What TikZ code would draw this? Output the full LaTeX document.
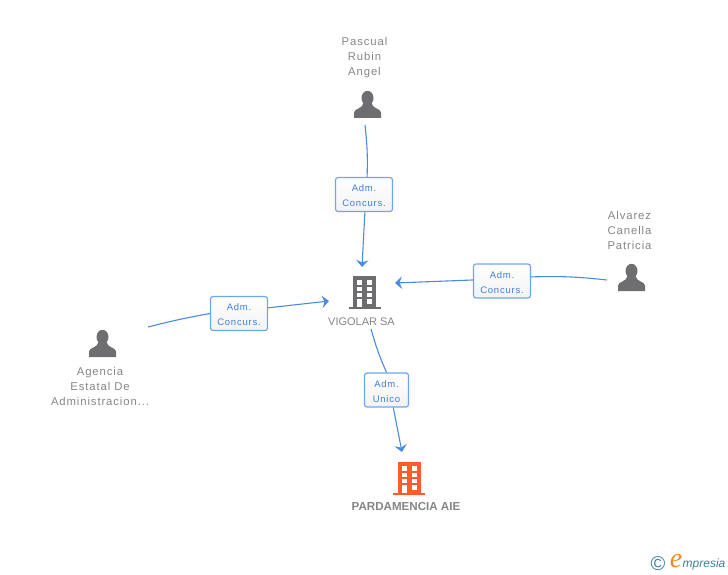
\documentclass[tikz,border=0pt]{standalone}
\usepackage{fontspec}
\setmainfont{Liberation Sans}
\newfontfamily\namefont[LetterSpace=8]{Liberation Sans}
\newfontfamily\relfont[LetterSpace=8]{Liberation Sans}
\newfontfamily\vigfont{Liberation Sans}
\newfontfamily\logofont{Liberation Serif}
\usepackage{tikz}
\usetikzlibrary{arrows.meta}
\definecolor{iconGray}{HTML}{6E6E70}
\definecolor{textGray}{HTML}{858585}
\definecolor{linkBlue}{HTML}{4A8BE0}
\definecolor{relBlue}{HTML}{3F7FDC}
\definecolor{boxBorder}{HTML}{6FA6EA}
\definecolor{orangeCo}{HTML}{FF5C2E}
\definecolor{logoTeal}{HTML}{3C7F96}
\definecolor{logoOrange}{HTML}{F28A1E}
\newcommand\reltop{\rule{0pt}{9.5pt}}
\tikzset{
  namelabel/.style={text=textGray, align=center, font=\namefont\fontsize{11.3}{15}\selectfont, inner sep=0pt},
  rellabel/.style={draw=boxBorder, line width=1.2pt, rounded corners=2.5pt, top color=white, bottom color=white!95!black,
    text=relBlue, align=center, font=\relfont\fontsize{9.5}{15}\selectfont, inner sep=0pt, minimum height=34pt},
  link/.style={draw=linkBlue, line width=1.1pt},
  linkarrow/.style={link, -{Stealth[length=7pt,width=12.5pt,inset=2.5pt]}},
  pics/person/.style={code={
    \fill[iconGray] (0,-20) circle[x radius=6, y radius=7.2];
    \fill[iconGray] (-13.5,0) -- (-13.5,-5.5) .. controls (-13.5,-9.5) and (-5,-9) .. (-4,-15)
      -- (4,-15) .. controls (5,-9) and (13.5,-9.5) .. (13.5,-5.5) -- (13.5,0) -- cycle;
  }},
  pics/building/.style={code={
    \fill[#1] (-11.5,-33) rectangle (11.5,-2);
    \fill[#1] (-16,-2) rectangle (16,0);
    \foreach \y in {-29,-22.5,-16.5} {
      \fill[white] (-7.5,\y) rectangle ++(5,4.8);
      \fill[white] (2.5,\y) rectangle ++(5,4.8);
    }
    \fill[white] (-7.5,-10) rectangle (-2.5,-2);
    \fill[white] (2.5,-10) rectangle (7.5,-5);
  }},
}
\begin{document}
\begin{tikzpicture}[x=1pt,y=-1pt]
  \useasboundingbox (0,0) rectangle (728,575);

  % Icons
  \pic at (367.5,118) {person};
  \pic at (631.5,291) {person};
  \pic at (102.5,357) {person};
  \pic at (364.5,309) {building=iconGray};
  \pic at (409,495) {building=orangeCo};

  % Names
  \node[namelabel] (pascual) at (364.5,58) {Pascual\\Rubin\\Angel};
  \node[namelabel] (alvarez) at (629.5,230) {Alvarez\\Canella\\Patricia};
  \node[namelabel] (agencia) at (100,386) {Agencia\\Estatal De\\Administracion...};
  \node[namelabel, font=\vigfont\fontsize{11}{15}\selectfont] (vigolar) at (361.5,322) {VIGOLAR SA};
  \node[namelabel, font=\bfseries\fontsize{11.6}{15}\selectfont] (pardamencia) at (406,507) {PARDAMENCIA AIE};

  % Relations
  \node[rellabel, minimum width=57pt] (admA) at (364,194.5) {\reltop Adm.\\Concurs.};
  \node[rellabel, minimum width=57pt] (admB) at (502,281) {\reltop Adm.\\Concurs.};
  \node[rellabel, minimum width=57pt] (admC) at (239,313.5) {\reltop Adm.\\Concurs.};
  \node[rellabel, minimum width=44pt] (admD) at (386.5,390) {\reltop Adm.\\Unico};

  % Ends
  \coordinate (startA) at (365,125);
  \coordinate (tipA) at (362,267);
  \coordinate (startB) at (607,280);
  \coordinate (tipB) at (395,283);
  \coordinate (startC) at (148,327);
  \coordinate (tipC) at (329,301);
  \coordinate (startD) at (371,329);
  \coordinate (tipD) at (402,452);

  % Connectors
  \draw[link] (startA) to[bend left=4] (admA.80);
  \draw[linkarrow] (admA.-87) -- (tipA);
  \draw[link] (startB) to[bend right=4] (admB.8);
  \draw[linkarrow] (admB.178) -- (tipB);
  \draw[link] (startC) to[bend left=2] (admC.180);
  \draw[linkarrow] (admC.11) -- (tipC);
  \draw[link] (startD) to[bend right=4] (admD.90);
  \draw[linkarrow] (admD.-69) -- (tipD);

  % Logo
  \node[inner sep=0pt, text=logoTeal, font=\fontsize{20}{20}\selectfont] (copyr) at (658,564) {©};
  \node[inner sep=0pt, text=logoOrange, font=\logofont\itshape\fontsize{28}{28}\selectfont] (logoE) at (676,561) {e};
  \node[inner sep=0pt, anchor=west, text=logoTeal, font=\itshape\fontsize{12}{12}\selectfont] (logoRest) at (682.5,564) {mpresia};
\end{tikzpicture}
\end{document}
